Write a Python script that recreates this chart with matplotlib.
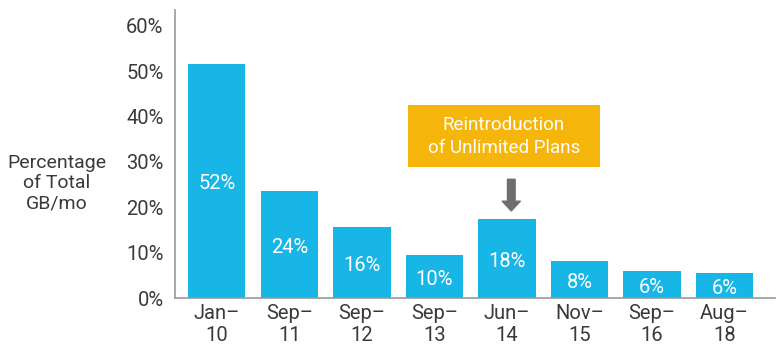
import matplotlib.pyplot as plt
from matplotlib.patches import FancyBboxPatch

plt.rcParams['font.family'] = ['Roboto', 'DejaVu Sans']

# data
periods = ["Jan-\n10", "Sep-\n11", "Sep-\n12", "Sep-\n13", "Jun-\n14", "Nov-\n15", "Sep-\n16", "Aug-\n18"]
share = [51.5, 23.5, 15.7, 9.6, 17.4, 8.2, 6.0, 5.5]
share_labels = ["52%", "24%", "16%", "10%", "18%", "8%", "6%", "6%"]
yticks = [0, 10, 20, 30, 40, 50, 60]

bar_color = "#17b6e6"
note_color = "#f5b50a"
arrow_color = "#6e6e6e"
text_color = "#3a3a3a"

fig = plt.figure(figsize=(7.8, 3.57), dpi=100)
ax = fig.add_axes([0.224, 0.165, 0.77, 0.807])

x = range(len(periods))
ax.bar(x, share, width=0.79, color=bar_color)

for i, (v, lab) in enumerate(zip(share, share_labels)):
    ax.text(i, v / 2 - 0.6, lab, ha="center", va="center", color="white", fontsize=14.5)

ax.set_xlim(-0.58, 7.7)
ax.set_ylim(0, 63.5)
ax.set_yticks(yticks)
ax.set_yticklabels([f"{t}%" for t in yticks], fontsize=14.5, color=text_color)
ax.set_xticks(list(x))
ax.set_xticklabels([p.replace("-", "\u2013") for p in periods], fontsize=14.5,
                   color=text_color, linespacing=1.2)
ax.tick_params(length=0, pad=4)
ax.tick_params(axis="y", pad=8)

for side in ("top", "right"):
    ax.spines[side].set_visible(False)
for side in ("left", "bottom"):
    ax.spines[side].set_color("#9a9a9a")
    ax.spines[side].set_linewidth(1.2)

# callout box and arrow
box = FancyBboxPatch((2.63, 28.9), 2.65, 13.6, boxstyle="square,pad=0",
                     facecolor=note_color, edgecolor="none")
ax.add_patch(box)
ax.text(3.955, 35.7, "Reintroduction\nof Unlimited Plans", ha="center", va="center",
        color="white", fontsize=13.5, linespacing=1.35)
ax.annotate("", xy=(4.06, 18.6), xytext=(4.06, 26.8),
            arrowprops=dict(arrowstyle="simple,head_width=1.3,head_length=0.7,tail_width=0.55",
                            color=arrow_color))

fig.text(57 / 780, 1 - 183 / 357, "Percentage\nof Total\nGB/mo", ha="center", va="center",
         fontsize=14, color=text_color, linespacing=1.15)

fig.savefig("out.png", dpi=100)
